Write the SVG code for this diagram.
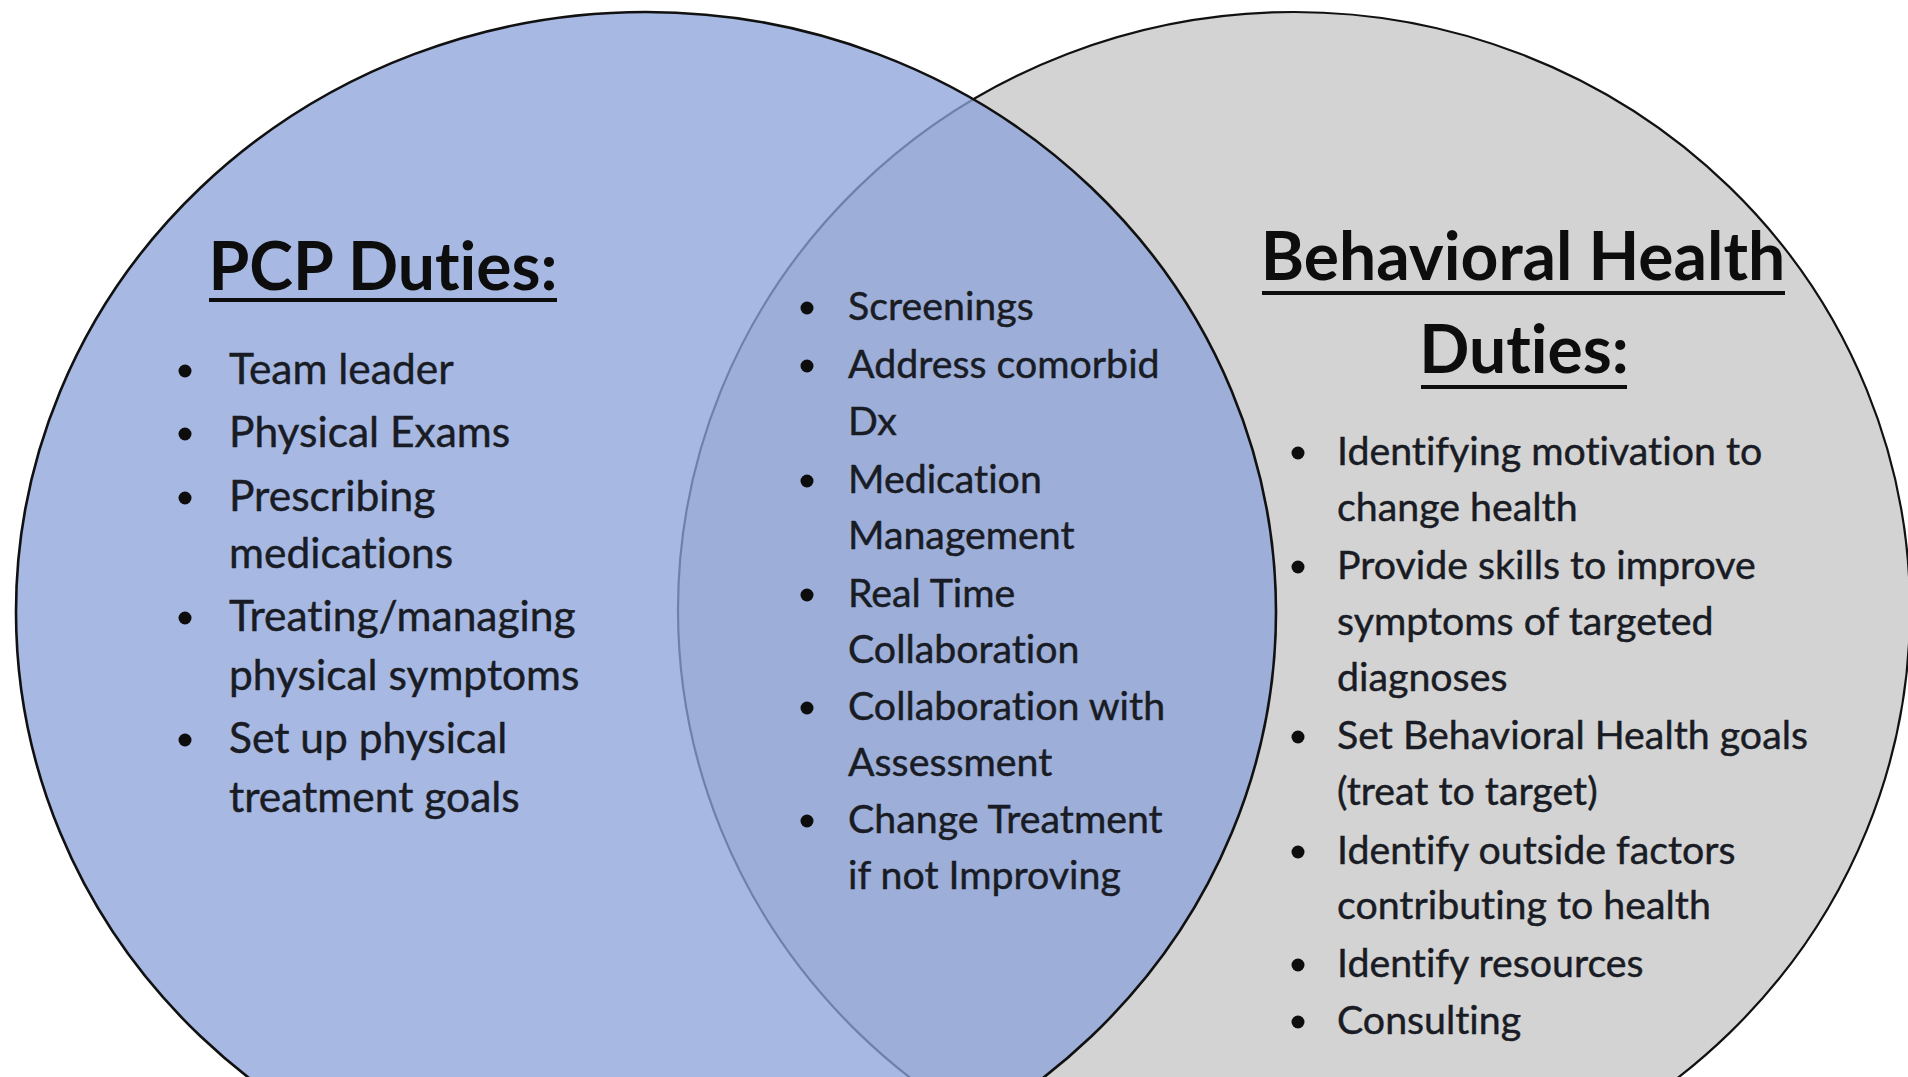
<svg xmlns="http://www.w3.org/2000/svg" width="1908" height="1077" viewBox="0 0 1908 1077">
  <style>
    text { font-family: Lato, "Open Sans", "Liberation Sans", sans-serif; font-variant-ligatures: none; }
    .ring { stroke: #111; fill: none; }
    .title { font-weight: 700; font-size: 66px; fill: #0d0d0d; text-anchor: middle; }
    .item { font-size: 39.3px; fill: #191c24; stroke: #191c24; stroke-width: 0.45; }
    .item-lg { font-size: 42.5px; }
    .dot { fill: #0d0d0d; }
    .rule { stroke: #0d0d0d; stroke-width: 4; }
  </style>
  <rect width="1908" height="1077" fill="#ffffff"/>

  <!-- Behavioral Health circle (drawn first, shows through the overlap) -->
  <g id="bh-duties">
    <ellipse cx="1294" cy="610" rx="616" ry="598" fill="#d3d3d3"/>
    <ellipse class="ring" cx="1294" cy="610" rx="616" ry="598" stroke-width="2.2"/>
  </g>

  <!-- PCP circle, translucent so the overlap reads darker -->
  <g id="pcp-duties">
    <ellipse cx="646" cy="612" rx="630" ry="600" fill="#8ca4d9" fill-opacity="0.77"/>
    <ellipse class="ring" cx="646" cy="612" rx="630" ry="600" stroke-width="2.6"/>
  </g>

  <!-- PCP title and list -->
  <g id="pcp-text">
    <text class="title" x="383" y="290">PCP Duties:</text>
    <line class="rule" x1="209" y1="300" x2="557" y2="300"/>
    <circle class="dot" cx="185" cy="371" r="6.5"/>
    <circle class="dot" cx="185" cy="434" r="6.5"/>
    <circle class="dot" cx="185" cy="498" r="6.5"/>
    <circle class="dot" cx="185" cy="618" r="6.5"/>
    <circle class="dot" cx="185" cy="740" r="6.5"/>
    <text class="item item-lg" x="229" y="384">Team leader</text>
    <text class="item item-lg" x="229" y="447">Physical Exams</text>
    <text class="item item-lg" x="229" y="511">Prescribing</text>
    <text class="item item-lg" x="229" y="568">medications</text>
    <text class="item item-lg" x="229" y="631">Treating/managing</text>
    <text class="item item-lg" x="229" y="690">physical symptoms</text>
    <text class="item item-lg" x="229" y="753">Set up physical</text>
    <text class="item item-lg" x="229" y="812">treatment goals</text>
  </g>

  <!-- Shared duties in the overlap -->
  <g id="shared-duties">
    <circle class="dot" cx="807" cy="308" r="6.5"/>
    <circle class="dot" cx="807" cy="366" r="6.5"/>
    <circle class="dot" cx="807" cy="481" r="6.5"/>
    <circle class="dot" cx="807" cy="595" r="6.5"/>
    <circle class="dot" cx="807" cy="708" r="6.5"/>
    <circle class="dot" cx="807" cy="821" r="6.5"/>
    <text class="item" x="848" y="320">Screenings</text>
    <text class="item" x="848" y="378">Address comorbid</text>
    <text class="item" x="848" y="435">Dx</text>
    <text class="item" x="848" y="493">Medication</text>
    <text class="item" x="848" y="549">Management</text>
    <text class="item" x="848" y="607">Real Time</text>
    <text class="item" x="848" y="663">Collaboration</text>
    <text class="item" x="848" y="720">Collaboration with</text>
    <text class="item" x="848" y="776">Assessment</text>
    <text class="item" x="848" y="833">Change Treatment</text>
    <text class="item" x="848" y="889">if not Improving</text>
  </g>

  <!-- Behavioral Health title and list -->
  <g id="bh-text">
    <text class="title" x="1523" y="280">Behavioral Health</text>
    <line class="rule" x1="1262" y1="293" x2="1785" y2="293"/>
    <text class="title" x="1524" y="373">Duties:</text>
    <line class="rule" x1="1421" y1="387" x2="1627" y2="387"/>
    <circle class="dot" cx="1298" cy="453" r="6.5"/>
    <circle class="dot" cx="1298" cy="567" r="6.5"/>
    <circle class="dot" cx="1298" cy="737" r="6.5"/>
    <circle class="dot" cx="1298" cy="852" r="6.5"/>
    <circle class="dot" cx="1298" cy="965" r="6.5"/>
    <circle class="dot" cx="1298" cy="1022" r="6.5"/>
    <text class="item" x="1337" y="465">Identifying motivation to</text>
    <text class="item" x="1337" y="521">change health</text>
    <text class="item" x="1337" y="579">Provide skills to improve</text>
    <text class="item" x="1337" y="635">symptoms of targeted</text>
    <text class="item" x="1337" y="691">diagnoses</text>
    <text class="item" x="1337" y="749">Set Behavioral Health goals</text>
    <text class="item" x="1337" y="805">(treat to target)</text>
    <text class="item" x="1337" y="864">Identify outside factors</text>
    <text class="item" x="1337" y="919">contributing to health</text>
    <text class="item" x="1337" y="977">Identify resources</text>
    <text class="item" x="1337" y="1034">Consulting</text>
  </g>

  <g id="connectors"/>
</svg>
